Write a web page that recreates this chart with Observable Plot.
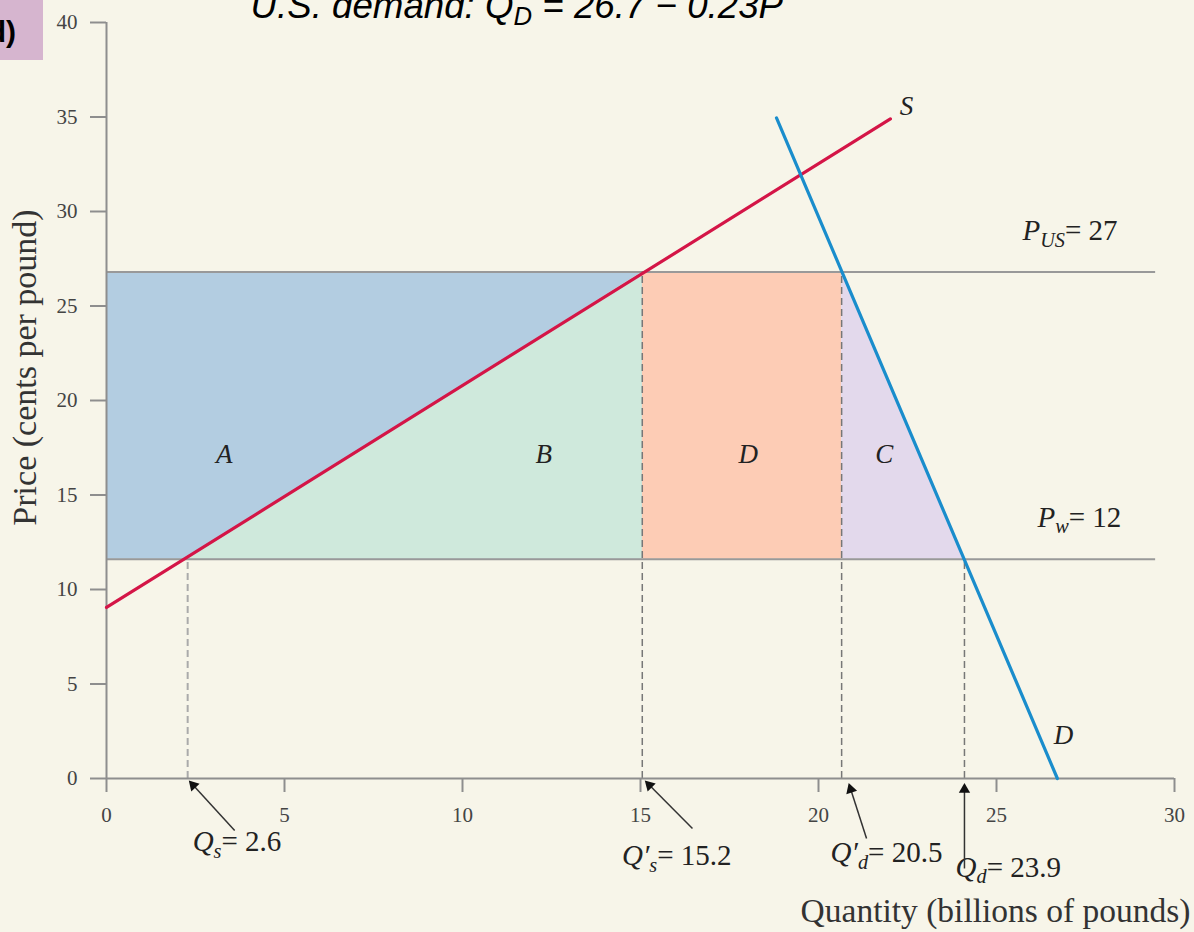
<!DOCTYPE html>
<html><head><meta charset="utf-8">
<script src="https://cdn.jsdelivr.net/npm/d3@7"></script>
<script src="https://cdn.jsdelivr.net/npm/@observablehq/plot@0.6"></script>
<style>
html,body{margin:0;padding:0;background:#f7f5e9;}
#wrap{position:relative;width:1194px;height:932px;overflow:hidden;background:#f7f5e9;}
#tag{position:absolute;left:0;top:0;width:43px;height:60px;background:#d6b5cf;overflow:hidden;}
#tag span{position:absolute;right:27px;top:15px;line-height:30px;font:bold 30px "Liberation Sans",Arial,sans-serif;color:#000;white-space:nowrap;}
</style></head>
<body><div id="wrap"><div id="tag"><span>d)</span></div></div>
<script>
// ---------- data ----------
const xTicks = [0, 5, 10, 15, 20, 25, 30];
const yTicks = [0, 5, 10, 15, 20, 25, 30, 35, 40];
const P_w = 11.6, P_US = 26.8;
const Q_s = 2.28, Q_s2 = 15.05, Q_d2 = 20.65, Q_d = 24.1;
const supplyQ = [0, 22.02], supplyP = [9.05, 34.9];
const demandQ = [18.82, 26.71], demandP = [34.95, 0];
const priceLineEnd = 29.47;
const regionNames = ["A", "B", "D", "C"];
const regionLabelX = [3.31, 12.28, 18.03, 21.85];
const regionLabelY = 16.7;
// annotation labels (markup: *italic*, _{subscript})
const annText = ["*Q*_{s}= 2.6", "*Q′*_{s}= 15.2", "*Q′*_{d}= 20.5", "*Q*_{d}= 23.9"];
const annX = [2.42, 14.48, 20.34, 23.85];
const annY = [-3.86, -4.60, -4.44, -5.19];
// arrows from labels to the axis
const arrowX1 = [3.6, 16.46, 21.35, 24.1], arrowY1 = [-2.75, -2.65, -3.17, -4.76];
const arrowX2 = [2.36, 15.17, 20.87, 24.1], arrowY2 = [-0.2, -0.2, -0.37, -0.37];
const priceText = ["*P*_{US}= 27", "*P*_{w}= 12"];
const priceX = [25.73, 26.15], priceY = [28.47, 13.33];
const curveText = ["S", "D"];
const curveX = [22.47, 26.88], curveY = [35.13, 1.8];
const titleText = "*U.S. demand: Q*_{D}* = 26.7 − 0.23P*";

// ---------- layout ----------
const W = 1194, H = 932;
const mL = 106, mR = 20, mT = 22, mB = 154;
const xDomain = [0, 30], yDomain = [0, 40];
const sx = (W - mL - mR) / (xDomain[1] - xDomain[0]);
const sy = (H - mT - mB) / (yDomain[1] - yDomain[0]);
const serif = '"Liberation Serif", "Times New Roman", serif';

const supply = supplyQ.map((q, i) => ({q, p: supplyP[i]}));
const demand = demandQ.map((q, i) => ({q, p: demandP[i]}));
const rects = [
  {x1: 0, x2: Q_s2, y1: P_w, y2: P_US, fill: "#b3cde1"},
  {x1: Q_s2, x2: Q_d2, y1: P_w, y2: P_US, fill: "#fdccb5"}
];
const triB = [{x: Q_s, y1: P_w, y2: P_w}, {x: Q_s2, y1: P_w, y2: P_US}];
const triC = [{x: Q_d2, y1: P_w, y2: P_US}, {x: Q_d, y1: P_w, y2: P_w}];
const arrows = arrowX1.map((x1, i) => {
  const x2 = arrowX2[i], y1 = arrowY1[i], y2 = arrowY2[i];
  const dxp = (x2 - x1) * sx, dyp = -(y2 - y1) * sy;
  const len = Math.hypot(dxp, dyp), ux = dxp / len, uy = dyp / len;
  return {x1, y1, x2, y2,
    hx: x2 - ux * 4 / sx, hy: y2 + uy * 4 / sy,
    rot: Math.atan2(ux, -uy) * 180 / Math.PI};
});
const dashes = [
  {x: Q_s, top: P_w, stroke: "#aaa", w: 2},
  {x: Q_s2, top: P_US, stroke: "#777", w: 1.5},
  {x: Q_d2, top: P_US, stroke: "#777", w: 1.5},
  {x: Q_d, top: P_w, stroke: "#777", w: 1.5}
];

const svg = Plot.plot({
  width: W, height: H,
  marginLeft: mL, marginRight: mR, marginTop: mT, marginBottom: mB,
  x: {domain: xDomain},
  y: {domain: yDomain},
  style: {background: "#f7f5e9", fontFamily: serif, overflow: "visible"},
  marks: [
    Plot.rect(rects, {x1: "x1", x2: "x2", y1: "y1", y2: "y2", fill: d => d.fill}),
    Plot.areaY(triB, {x: "x", y1: "y1", y2: "y2", fill: "#cfe9dc"}),
    Plot.areaY(triC, {x: "x", y1: "y1", y2: "y2", fill: "#e3d9ec"}),
    Plot.ruleY([P_US, P_w], {x1: 0, x2: priceLineEnd, stroke: "#999", strokeWidth: 2}),
    Plot.ruleX(dashes, {x: "x", y1: 0, y2: "top", stroke: d => d.stroke, strokeWidth: d => d.w, strokeDasharray: "7,4"}),
    Plot.ruleY([0], {x1: 0, x2: 30, stroke: "#8e8e8e", strokeWidth: 2}),
    Plot.ruleX([0], {y1: 0, y2: 40, stroke: "#8e8e8e", strokeWidth: 2}),
    Plot.axisX({ticks: xTicks, tickSize: 14, tickPadding: 15, fontSize: 21, stroke: "#8e8e8e", strokeWidth: 2, fill: "#444", label: null}),
    Plot.axisY({ticks: yTicks, tickSize: 16, tickPadding: 13, fontSize: 21, stroke: "#8e8e8e", strokeWidth: 2, fill: "#444", label: null}),
    Plot.line(supply, {x: "q", y: "p", stroke: "#d41547", strokeWidth: 3.2}),
    Plot.line(demand, {x: "q", y: "p", stroke: "#1a8dcc", strokeWidth: 3.2}),
    Plot.text(regionNames, {x: (d, i) => regionLabelX[i], y: regionLabelY, text: d => d, fontStyle: "italic", fontSize: 27, fill: "#222", lineAnchor: "bottom"}),
    Plot.text(curveText, {x: (d, i) => curveX[i], y: (d, i) => curveY[i], text: d => d, fontStyle: "italic", fontSize: 27, fill: "#222", lineAnchor: "bottom"}),
    Plot.text(priceText, {x: (d, i) => priceX[i], y: (d, i) => priceY[i], text: d => d, textAnchor: "start", fontSize: 29, fill: "#222", lineAnchor: "bottom"}),
    Plot.text(annText, {x: (d, i) => annX[i], y: (d, i) => annY[i], text: d => d, textAnchor: "start", fontSize: 29, fill: "#222", lineAnchor: "bottom"}),
    Plot.link(arrows, {x1: "x1", y1: "y1", x2: "x2", y2: "y2", stroke: "#333", strokeWidth: 1.5}),
    Plot.dot(arrows, {x: "hx", y: "hy", symbol: "triangle", r: 4.2, fill: "#111", stroke: null, rotate: "rot"}),
    Plot.text(["Quantity (billions of pounds)"], {frameAnchor: "bottom-right", dx: 16, dy: 143, textAnchor: "end", lineAnchor: "bottom", fontSize: 33.5, fill: "#333"}),
    Plot.text(["Price (cents per pound)"], {frameAnchor: "left", dx: -81, dy: -33, rotate: -90, textAnchor: "middle", lineAnchor: "middle", fontSize: 34, fill: "#333"}),
    Plot.text([titleText], {frameAnchor: "top-left", dx: 144, dy: -5, textAnchor: "start", lineAnchor: "bottom", fontSize: 36.7, fontFamily: '"Liberation Sans", Arial, sans-serif', fill: "#000"})
  ]
});

// rich text: *italic* and _{subscript}
d3.select(svg).selectAll("text").each(function () {
  const t = this.textContent;
  if (!/[*]|_\{/.test(t)) return;
  const parts = t.split(/(\*[^*]+\*|_\{[^}]+\})/).filter(s => s.length);
  this.textContent = "";
  let afterSub = false;
  for (const p of parts) {
    const ts = document.createElementNS("http://www.w3.org/2000/svg", "tspan");
    if (p.startsWith("_{")) {
      ts.textContent = p.slice(2, -1);
      ts.setAttribute("font-size", "70%");
      ts.setAttribute("font-style", "italic");
      ts.setAttribute("dy", "0.3em");
      afterSub = true;
    } else {
      if (p.startsWith("*")) { ts.textContent = p.slice(1, -1); ts.setAttribute("font-style", "italic"); }
      else ts.textContent = p;
      if (afterSub) { ts.setAttribute("dy", "-0.21em"); afterSub = false; }
    }
    this.appendChild(ts);
  }
});
document.getElementById("wrap").prepend(svg);
svg.style.position = "absolute"; svg.style.left = "0"; svg.style.top = "0";
</script></body></html>
